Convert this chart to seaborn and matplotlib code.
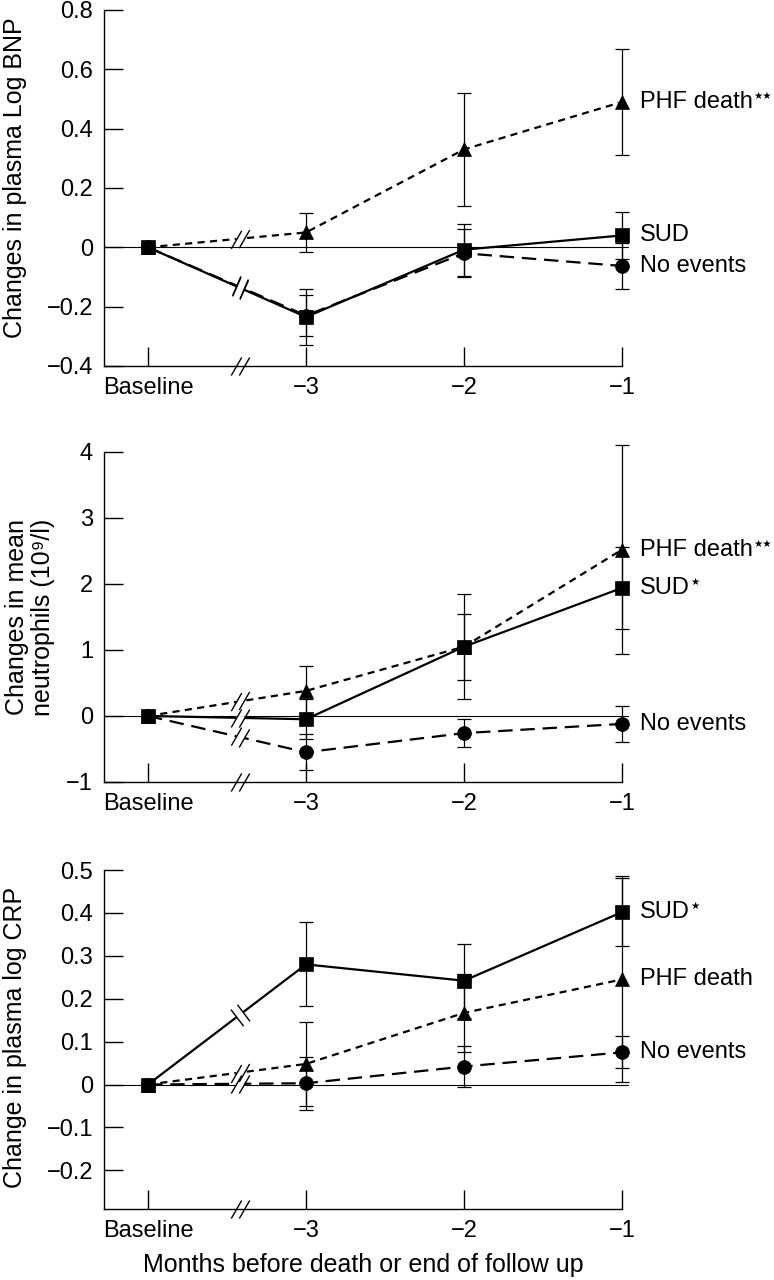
import numpy as np
import pandas as pd
import seaborn as sns
import matplotlib.pyplot as plt

from matplotlib.path import Path
from matplotlib.ticker import FuncFormatter

# x axis: months before death / end of follow up
months = ["Baseline", "\u22123", "\u22122", "\u22121"]
month_pos = [0, 1, 2, 3]
groups = ["PHF death", "SUD", "No events"]

# panel 1: log BNP
bnp_phf = [0, 0.05, 0.33, 0.49]
bnp_phf_err = [0, 0.065, 0.19, 0.18]
bnp_sud = [0, -0.235, -0.008, 0.04]
bnp_sud_err = [0, 0.095, 0.088, 0.08]
bnp_none = [0, -0.23, -0.02, -0.063]
bnp_none_err = [0, 0.07, 0.08, 0.076]
bnp_ticks = [-0.4, -0.2, 0, 0.2, 0.4, 0.6, 0.8]
bnp_stars = {"PHF death": "\u2605\u2605", "SUD": "", "No events": ""}

# panel 2: neutrophils
neu_phf = [0, 0.38, 1.05, 2.52]
neu_phf_err = [0, 0.38, 0.8, 1.58]
neu_sud = [0, -0.05, 1.05, 1.94]
neu_sud_err = [0, 0.3, 0.5, 0.62]
neu_none = [0, -0.55, -0.26, -0.12]
neu_none_err = [0, 0.27, 0.21, 0.27]
neu_ticks = [-1, 0, 1, 2, 3, 4]
neu_stars = {"PHF death": "\u2605\u2605", "SUD": "\u2605", "No events": ""}

# panel 3: log CRP
crp_phf = [0, 0.048, 0.167, 0.245]
crp_phf_err = [0, 0.097, 0.09, 0.24]
crp_sud = [0, 0.28, 0.242, 0.402]
crp_sud_err = [0, 0.098, 0.086, 0.08]
crp_none = [0, 0.003, 0.042, 0.075]
crp_none_err = [0, 0.062, 0.048, 0.037]
crp_ticks = [-0.2, -0.1, 0, 0.1, 0.2, 0.3, 0.4, 0.5]
crp_stars = {"PHF death": "", "SUD": "\u2605", "No events": ""}

sns.set_theme(style="ticks", rc={
    "axes.edgecolor": "black", "text.color": "black", "axes.labelcolor": "black",
    "xtick.color": "black", "ytick.color": "black", "axes.linewidth": 1.0,
})
plt.rcParams["font.family"] = ["Liberation Sans", "DejaVu Sans"]
plt.rcParams["axes.unicode_minus"] = True


def fmt(v, pos):
    s = f"{v:.2f}".rstrip("0").rstrip(".")
    if s in ("-0", "0"):
        return "0"
    return s.replace("-", "\u2212")


def break_mark(ax, x, y, theta, alpha, gap=True):
    # two short parallel strokes ("//") drawn as a marker, sizes in points
    h, d = 7.5, 2.9
    ca, sa = np.cos(np.radians(alpha)), np.sin(np.radians(alpha))
    ct, st = np.cos(np.radians(theta)), np.sin(np.radians(theta))
    if gap:
        g = np.array([[-d * ct, -d * st], [d * ct, d * st]])
        ax.plot([x], [y], ls="none", marker=Path(g, [Path.MOVETO, Path.LINETO]),
                ms=2 * np.abs(g).max(), mec="white", mew=3.5, mfc="none",
                zorder=3, clip_on=False)
    verts = []
    for s in (-1, 1):
        cx, cy = s * d * ct, s * d * st
        verts += [[cx - h * ca, cy - h * sa], [cx + h * ca, cy + h * sa]]
    v = np.array(verts)
    ax.plot([x], [y], ls="none", marker=Path(v, [Path.MOVETO, Path.LINETO] * 2),
            ms=2 * np.abs(v).max(), mec="black", mew=1.0, mfc="none",
            zorder=4, clip_on=False)


panels = [
    dict(vals=[bnp_phf, bnp_sud, bnp_none], errs=[bnp_phf_err, bnp_sud_err, bnp_none_err],
         ticks=bnp_ticks, ylim=(-0.4, 0.8), stars=bnp_stars,
         label="Changes in plasma Log BNP", lab_xy=(-0.172, 0.528),
         pos=[0.1344, 0.7141, 0.6693, 0.2781]),
    dict(vals=[neu_phf, neu_sud, neu_none], errs=[neu_phf_err, neu_sud_err, neu_none_err],
         ticks=neu_ticks, ylim=(-1, 4), stars=neu_stars,
         label="Changes in mean\nneutrophils (10\u2079/l)", lab_xy=(-0.143, 0.5),
         pos=[0.1344, 0.3891, 0.6693, 0.2578]),
    dict(vals=[crp_phf, crp_sud, crp_none], errs=[crp_phf_err, crp_sud_err, crp_none_err],
         ticks=crp_ticks, ylim=(-0.29, 0.5), stars=crp_stars,
         label="Change in plasma log CRP", lab_xy=(-0.172, 0.507),
         pos=[0.1344, 0.0555, 0.6693, 0.2648]),
]

order = ["PHF death", "No events", "SUD"]
pal = {g: "black" for g in groups}
dash_map = {"PHF death": (3.2, 2.4), "SUD": "", "No events": (6.5, 3.5)}
marker_map = {"PHF death": "^", "SUD": "s", "No events": "o"}
x_break = 0.58

fig = plt.figure(figsize=(7.74, 12.8), dpi=100)

for i, p in enumerate(panels):
    ax = fig.add_axes(p["pos"])
    df = pd.DataFrame({
        "month": month_pos * 3,
        "change": sum(p["vals"], []),
        "group": np.repeat(groups, 4),
    })

    ax.axhline(0, color="black", lw=0.8, xmin=0, xmax=1.012, clip_on=False, zorder=1)

    for vals, errs in zip(p["vals"], p["errs"]):
        eb = ax.errorbar(month_pos[1:], vals[1:], yerr=errs[1:], fmt="none",
                         ecolor="black", elinewidth=0.9, capsize=5, capthick=0.9, zorder=1.5)
        for c in eb.get_children():
            c.set_clip_on(False)

    sns.lineplot(data=df, x="month", y="change", hue="group", style="group",
                 hue_order=order, style_order=order, palette=pal,
                 dashes=dash_map, markers=marker_map, markersize=10,
                 markeredgecolor="black", markeredgewidth=0.5, linewidth=1.6,
                 estimator=None, sort=False, legend=False, ax=ax)
    for line in ax.lines:
        line.set_clip_on(False)

    ax.set_xlim(-0.278, 3.0)
    ax.set_ylim(*p["ylim"])
    ax.set_xticks(month_pos, months)
    ax.set_yticks(p["ticks"])
    ax.yaxis.set_major_formatter(FuncFormatter(fmt))
    ax.tick_params(direction="in", length=13.5, width=1, pad=8, labelsize=17)
    ax.set_xlabel("")
    ax.set_ylabel(p["label"], fontsize=18, va="center", linespacing=1.15)
    ax.yaxis.set_label_coords(*p["lab_xy"])
    sns.despine(ax=ax)

    # series labels on the right
    for g, vals in zip(groups, p["vals"]):
        t = ax.annotate(g, xy=(3, vals[-1]), xytext=(13, 0), textcoords="offset points",
                        va="center", ha="left", fontsize=17, annotation_clip=False)
        if p["stars"][g]:
            ax.annotate(p["stars"][g], xy=(1, 1), xycoords=t, xytext=(0, 0),
                        textcoords="offset points", ha="left", va="top", fontsize=7.5)

    # axis break marks
    break_mark(ax, x_break, p["ylim"][0], 0, 60, gap=False)
    for vals in p["vals"]:
        p0 = ax.transData.transform((0, vals[0]))
        p1 = ax.transData.transform((1, vals[1]))
        theta = np.degrees(np.arctan2(p1[1] - p0[1], p1[0] - p0[0]))
        alpha = theta + 90 if abs(theta) > 20 else 60
        yb = vals[0] + (vals[1] - vals[0]) * x_break
        break_mark(ax, x_break, yb, theta, alpha)

    if i == 2:
        ax.set_xlabel("Months before death or end of follow up", fontsize=18, labelpad=8)

plt.savefig("out.png", dpi=100)
